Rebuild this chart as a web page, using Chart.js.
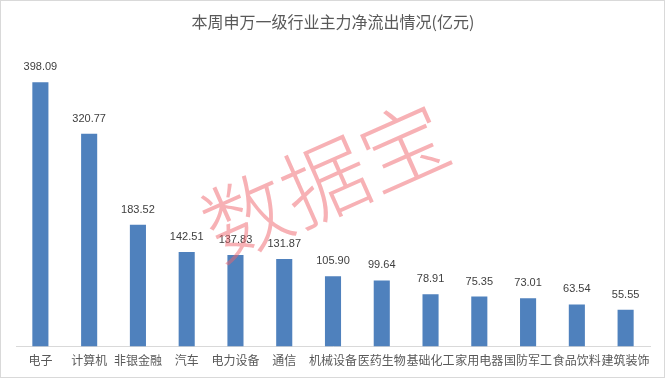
<!DOCTYPE html>
<html>
<head>
<meta charset="utf-8">
<script src="https://cdn.jsdelivr.net/npm/chart.js@4"></script>
<style>
  html, body { margin: 0; padding: 0; background: #fff; }
  #wrap { width: 665px; height: 378px; box-sizing: border-box; border: 1px solid #d9d9d9; }
</style>
</head>
<body>
<div id="wrap"><canvas id="chart" width="663" height="376"></canvas></div>
<script>
const categories = ['电子', '计算机', '非银金融', '汽车', '电力设备', '通信', '机械设备', '医药生物', '基础化工', '家用电器', '国防军工', '食品饮料', '建筑装饰'];
const outflow = [398.09, 320.77, 183.52, 142.51, 137.83, 131.87, 105.90, 99.64, 78.91, 75.35, 73.01, 63.54, 55.55];

const ctx = document.getElementById('chart').getContext('2d');

// values above the bars
const valueLabels = {
  id: 'valueLabels',
  afterDatasetsDraw(chart) {
    const c = chart.ctx;
    const meta = chart.getDatasetMeta(0);
    c.save();
    c.font = '11px "Liberation Sans", Arial, sans-serif';
    c.fillStyle = '#404040';
    c.textAlign = 'center';
    c.textBaseline = 'middle';
    meta.data.forEach((bar, i) => {
      c.fillText(outflow[i].toFixed(2), bar.x, bar.y - 15);
    });
    c.restore();
  }
};

// the red "数据宝" watermark
const watermark = {
  id: 'watermark',
  afterDatasetsDraw(chart) {
    const c = chart.ctx;
    c.save();
    c.translate(324, 180);
    c.rotate(-24 * Math.PI / 180);
    c.font = '300 86px "Noto Sans CJK SC", sans-serif';
    c.fillStyle = 'rgba(240, 100, 108, 0.5)';
    c.textAlign = 'center';
    c.textBaseline = 'middle';
    c.fillText('数据宝', 0, 0);
    c.restore();
  }
};

new Chart(ctx, {
  type: 'bar',
  data: {
    labels: categories,
    datasets: [{
      data: outflow,
      backgroundColor: '#4f81bd',
      categoryPercentage: 1,
      barPercentage: 0.33
    }]
  },
  options: {
    responsive: false,
    animation: false,
    layout: { padding: { top: 1, left: 15, right: 14, bottom: 2 } },
    plugins: {
      legend: { display: false },
      tooltip: { enabled: false },
      title: {
        display: true,
        text: '本周申万一级行业主力净流出情况(亿元)',
        color: '#595959',
        font: { family: '"Noto Sans CJK SC", sans-serif', size: 16, weight: 'normal' },
        padding: { top: 10, bottom: 20 }
      }
    },
    scales: {
      x: {
        grid: { display: false, drawTicks: false },
        border: { color: '#d9d9d9', width: 1 },
        ticks: {
          color: '#595959',
          autoSkip: false,
          maxRotation: 0,
          padding: 7,
          font: { family: '"Noto Sans CJK SC", sans-serif', size: 12 }
        }
      },
      y: {
        display: false,
        min: 0,
        max: 445
      }
    }
  },
  plugins: [valueLabels, watermark]
});
</script>
</body>
</html>
